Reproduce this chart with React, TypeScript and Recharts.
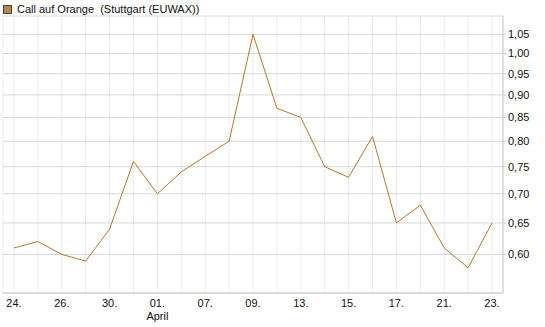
import React from 'react';
import { LineChart, Line, XAxis, YAxis, CartesianGrid } from 'recharts';

const dates = ['24.', '25.', '26.', '27.', '30.', '31.', '01.', '06.', '07.', '08.', '09.', '12.', '13.', '14.', '15.', '16.', '17.', '20.', '21.', '22.', '23.'];
const prices = [0.61, 0.62, 0.60, 0.59, 0.64, 0.76, 0.70, 0.74, 0.77, 0.80, 1.05, 0.87, 0.85, 0.75, 0.73, 0.81, 0.65, 0.68, 0.61, 0.58, 0.65];
const yTicks = [0.6, 0.65, 0.7, 0.75, 0.8, 0.85, 0.9, 0.95, 1.0, 1.05];
const monthLabels: Record<string, string> = { '01.': 'April' };

const data = dates.map((d, i) => ({ date: d, price: prices[i] }));

const FONT = '"Liberation Sans", Arial, sans-serif';

const XTick = (props: any) => {
  const { x, y, payload, index } = props;
  if (index % 2 !== 0) return null;
  const month = monthLabels[payload.value];
  return (
    <g>
      <text x={x} y={y + 6} textAnchor="middle" fontSize={11} fill="#111" fontFamily={FONT}>
        {payload.value}
      </text>
      {month ? (
        <text x={x} y={y + 19} textAnchor="middle" fontSize={11} fill="#111" fontFamily={FONT}>
          {month}
        </text>
      ) : null}
    </g>
  );
};

export default function App() {
  return (
    <div style={{ position: 'absolute', left: 0, top: 0, width: 545, height: 327, background: '#fff', fontFamily: FONT }}>
      <div style={{ position: 'absolute', left: 3, top: 3, display: 'flex', alignItems: 'center', fontSize: 11, color: '#111', whiteSpace: 'pre' }}>
        <span style={{ display: 'inline-block', width: 7, height: 7, background: '#b8884a', border: '1px solid #444', marginRight: 5 }} />
        <span>Call auf Orange  (Stuttgart (EUWAX))</span>
      </div>
      <LineChart width={545} height={327} data={data} margin={{ top: 16, right: 0, bottom: 0, left: 3 }}>
        <CartesianGrid horizontal={false} vertical={true} stroke="#ececec" />
        <CartesianGrid horizontal={true} vertical={false} stroke="#d8d8d8" />
        <XAxis
          dataKey="date"
          interval={0}
          padding={{ left: 11, right: 11 }}
          tickLine={false}
          axisLine={{ stroke: '#cccccc' }}
          tick={<XTick />}
          height={34}
        />
        <YAxis
          yAxisId="left"
          orientation="left"
          width={0}
          tick={false}
          tickLine={false}
          axisLine={{ stroke: '#cccccc' }}
          scale="log"
          domain={[0.544, 1.1]}
          allowDataOverflow
        />
        <YAxis
          orientation="right"
          width={42}
          scale="log"
          domain={[0.544, 1.1]}
          allowDataOverflow
          ticks={yTicks}
          interval={0}
          tickSize={3}
          tickLine={{ stroke: '#cccccc' }}
          axisLine={{ stroke: '#cccccc' }}
          tick={{ fontSize: 11, fill: '#111', fontFamily: FONT, textAnchor: 'start' }}
          tickFormatter={(v: number) => v.toFixed(2).replace('.', ',')}
        />
        <Line
          type="linear"
          dataKey="price"
          stroke="#b5782a"
          strokeWidth={1}
          dot={false}
          isAnimationActive={false}
        />
      </LineChart>
    </div>
  );
}
